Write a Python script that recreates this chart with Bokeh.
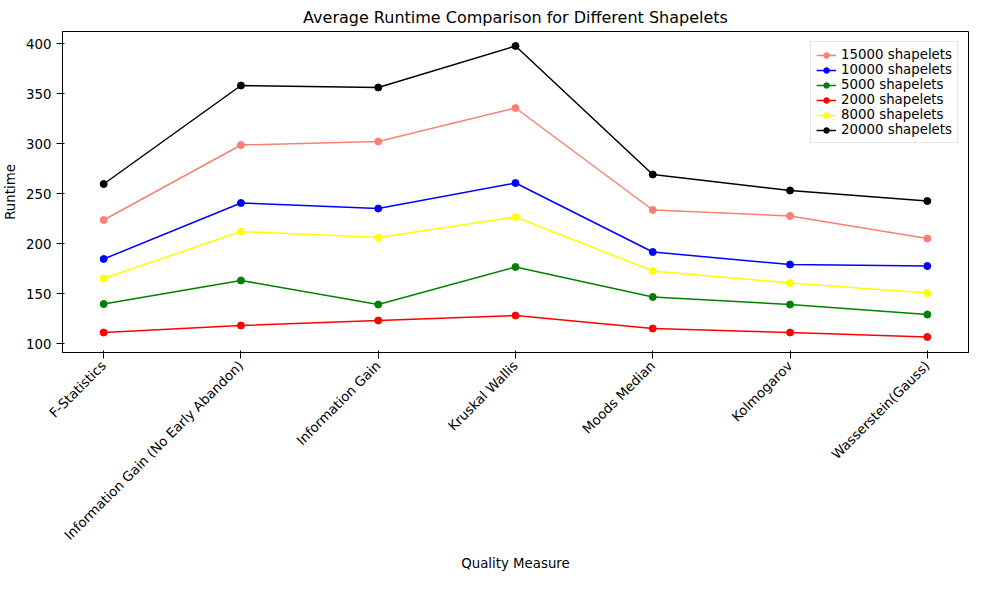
import math
from bokeh.plotting import figure
from bokeh.models import Range1d
from bokeh.embed import file_html
from bokeh.resources import INLINE

measures = ["F-Statistics", "Information Gain (No Early Abandon)", "Information Gain",
            "Kruskal Wallis", "Moods Median", "Kolmogarov", "Wasserstein(Gauss)"]

rt_15000 = [223.5, 298.5, 302, 335.5, 233.5, 227.5, 205]
rt_10000 = [184.5, 240.5, 235, 260.5, 191.5, 179, 177.5]
rt_5000 = [139.5, 163, 139, 176.5, 146.5, 139, 129]
rt_2000 = [111, 118, 123, 128, 115, 111, 106.5]
rt_8000 = [165, 212, 206, 226.5, 172.5, 160.5, 150.5]
rt_20000 = [259.5, 358, 356, 397.5, 269, 253, 242.5]

series = [("15000 shapelets", rt_15000, "salmon"),
          ("10000 shapelets", rt_10000, "blue"),
          ("5000 shapelets", rt_5000, "green"),
          ("2000 shapelets", rt_2000, "red"),
          ("8000 shapelets", rt_8000, "yellow"),
          ("20000 shapelets", rt_20000, "black")]

xs = list(range(len(measures)))

p = figure(width=973, height=574, output_backend="svg", toolbar_location=None,
           title="Average Runtime Comparison for Different Shapelets",
           x_axis_label="Quality Measure", y_axis_label="Runtime",
           x_range=Range1d(-0.3, 6.3), y_range=Range1d(91, 412))
p.title.align = "center"
p.title.text_font_size = "12pt"
p.title.text_font_style = "normal"
p.title.text_font = "DejaVu Sans"
p.title.text_color = "black"

for label, vals, col in series:
    p.line(xs, vals, line_color=col, line_width=1.5, legend_label=label)
    p.scatter(xs, vals, size=7, color=col, legend_label=label)

p.xaxis.ticker = xs
p.xaxis.major_label_overrides = {i: m for i, m in enumerate(measures)}
p.xaxis.major_label_orientation = math.pi / 4
p.yaxis.ticker = [100, 150, 200, 250, 300, 350, 400]
for ax in (p.xaxis, p.yaxis):
    ax.major_label_text_font_size = "10pt"
    ax.axis_label_text_font_size = "10pt"
    ax.axis_label_text_font_style = "normal"
    ax.major_label_text_font = "DejaVu Sans"
    ax.axis_label_text_font = "DejaVu Sans"
    ax.major_label_text_color = "black"
    ax.axis_label_text_color = "black"
    ax.minor_tick_line_color = None
    ax.axis_line_color = "black"
    ax.major_tick_line_color = "black"
p.xgrid.visible = False
p.ygrid.visible = False
p.outline_line_color = "black"

p.legend.location = "top_right"
p.legend.label_text_font_size = "10pt"
p.legend.label_text_font = "DejaVu Sans"
p.legend.label_text_color = "black"
p.legend.spacing = 0
p.legend.padding = 5
p.legend.label_height = 14
p.legend.glyph_height = 14
p.legend.border_line_color = "#cccccc"

open("out.html", "w").write(file_html(p, INLINE))
